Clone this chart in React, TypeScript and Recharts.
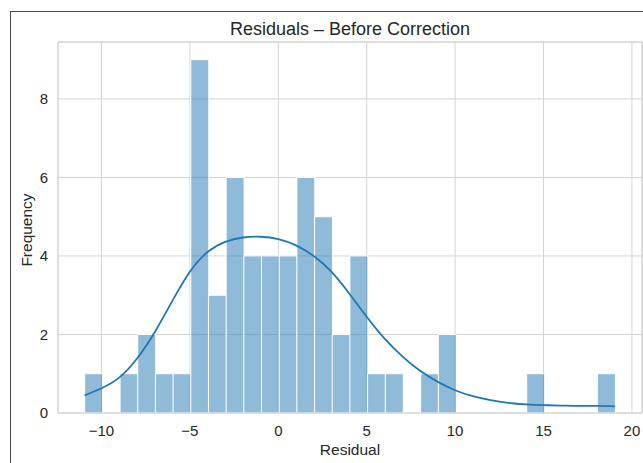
import { Bar, CartesianGrid, ComposedChart, Line, ReferenceLine, XAxis, YAxis } from 'recharts';

// histogram bins (centres of 1-unit bins) and their counts
const binCenters = [
  -10.45, -9.45, -8.45, -7.45, -6.45, -5.45, -4.45, -3.45, -2.45, -1.45, -0.45, 0.55, 1.55, 2.55, 3.55,
  4.55, 5.55, 6.55, 7.55, 8.55, 9.55, 10.55, 11.55, 12.55, 13.55, 14.55, 15.55, 16.55, 17.55, 18.55,
];
const binCounts = [1, 0, 1, 2, 1, 1, 9, 3, 6, 4, 4, 4, 6, 5, 2, 4, 1, 1, 0, 1, 2, 0, 0, 0, 0, 1, 0, 0, 0, 1];

// kde curve, scaled to counts
const kdeX = [-10.95, -10, -9, -8, -7, -6, -5, -4, -3, -2, -1, 0, 1, 2, 3, 4, 5, 6, 7, 8, 9, 10, 11, 12, 13, 14, 15, 16, 17, 18, 19.05];
const kdeY = [
  0.45, 0.63, 0.9, 1.38, 2.05, 2.85, 3.6, 4.1, 4.36, 4.47, 4.49, 4.43, 4.27, 4.0, 3.6, 3.05, 2.45, 1.9, 1.45,
  1.08, 0.8, 0.58, 0.43, 0.33, 0.26, 0.22, 0.2, 0.19, 0.18, 0.18, 0.17,
];

const xTicks = [-10, -5, 0, 5, 10, 15, 20];
const yTicks = [0, 2, 4, 6, 8];
const xDomain: [number, number] = [-12.46, 20.57];
const yDomain: [number, number] = [0, 9.45];

const bins = binCenters.map((x, i) => ({ x, count: binCounts[i] }));
const kde = kdeX.map((x, i) => ({ x, y: kdeY[i] }));

const FONT = '"Liberation Sans", Arial, sans-serif';
const INK = '#262626';
const GRID = '#d4d4d4';
const BLUE = '#1f77b4';

const W = 643;
const H = 463;
const MARGIN = { top: 42, right: 1, bottom: 0, left: 0 };
const Y_AXIS_W = 58;

const minus = (v: number) => String(v).replace('-', '\u2212');

export default function App() {
  return (
    <div style={{ position: 'relative', width: W, height: H, overflow: 'hidden', background: '#fff', fontFamily: FONT }}>
      <style>{'body{margin:0}'}</style>
      <div
        style={{
          position: 'absolute',
          left: 10,
          top: 11,
          width: 700,
          height: 500,
          border: '1.5px solid #4a4a4a',
        }}
      />
      <div style={{ position: 'absolute', left: 58, top: 19, width: 584, textAlign: 'center', fontSize: 18, color: INK }}>
        Residuals – Before Correction
      </div>
      <div
        style={{
          position: 'absolute',
          left: 27,
          top: 230,
          transform: 'translate(-50%, -50%) rotate(-90deg)',
          fontSize: 15.5,
          color: INK,
          whiteSpace: 'nowrap',
        }}
      >
        Frequency
      </div>
      <div style={{ position: 'absolute', left: 58, top: 441, width: 584, textAlign: 'center', fontSize: 15.5, color: INK }}>
        Residual
      </div>
      <div style={{ position: 'absolute', left: 0, top: 0 }}>
        <ComposedChart width={W} height={H} data={bins} margin={MARGIN} barGap={0} barCategoryGap={0}>
          <CartesianGrid stroke={GRID} strokeWidth={1} />
          <XAxis
            dataKey="x"
            type="number"
            domain={xDomain}
            allowDataOverflow
            ticks={xTicks}
            tickFormatter={minus}
            height={50}
            tickSize={0}
            tickMargin={12}
            tickLine={false}
            axisLine={{ stroke: GRID }}
            tick={{ fill: INK, fontSize: 15, fontFamily: FONT }}
          />
          {/* same scale for the kde line, kept apart so its points don't shrink the bars */}
          <XAxis xAxisId="kde" dataKey="x" type="number" domain={xDomain} allowDataOverflow hide />
          <YAxis
            type="number"
            domain={yDomain}
            allowDataOverflow
            ticks={yTicks}
            width={Y_AXIS_W}
            tickSize={0}
            tickMargin={10}
            tickLine={false}
            axisLine={{ stroke: GRID }}
            tick={{ fill: INK, fontSize: 15, fontFamily: FONT }}
          />
          <ReferenceLine y={yDomain[1]} stroke={GRID} />
          <ReferenceLine x={xDomain[1]} stroke={GRID} />
          <Bar
            dataKey="count"
            fill={BLUE}
            fillOpacity={0.5}
            stroke="#ffffff"
            strokeWidth={1}
            isAnimationActive={false}
          />
          <Line
            xAxisId="kde"
            data={kde}
            dataKey="y"
            type="natural"
            stroke={BLUE}
            strokeWidth={1.8}
            dot={false}
            activeDot={false}
            isAnimationActive={false}
          />
        </ComposedChart>
      </div>
    </div>
  );
}
